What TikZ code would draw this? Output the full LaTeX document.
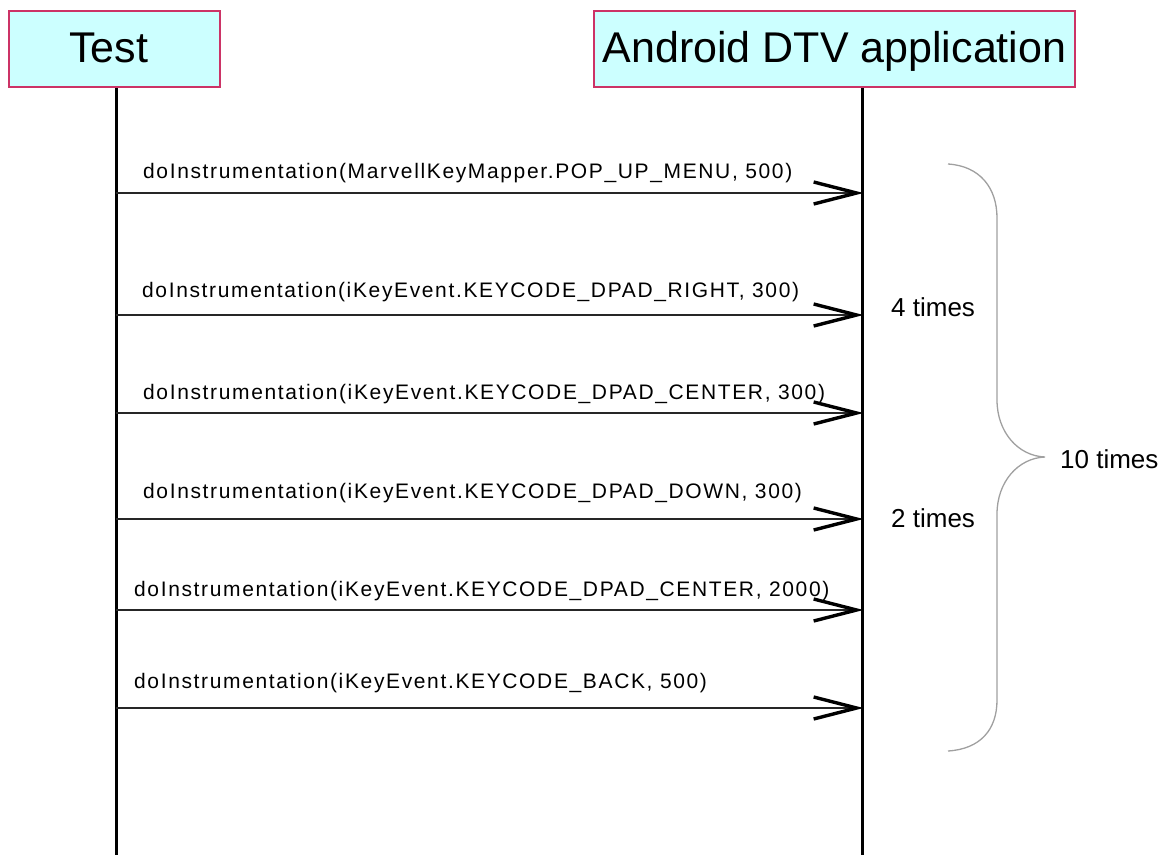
\documentclass[tikz,border=0pt]{standalone}
\usepackage{fontspec}
\setmainfont{Liberation Sans}
\newfontfamily\msgfont[LetterSpace=7.8]{Liberation Sans}
\usetikzlibrary{arrows.meta}
\definecolor{headfill}{HTML}{CCFFFF}
\definecolor{headline}{HTML}{CC3366}
\definecolor{bracegray}{HTML}{A0A0A0}
\begin{document}
\begin{tikzpicture}[x=1pt,y=-1pt,
  header/.style={draw=headline, line width=1.6pt, fill=headfill, inner sep=0pt,
    minimum height=76pt, text height=26pt, text depth=0pt,
    font=\fontsize{43}{50}\selectfont},
  lifeline/.style={line width=3pt},
  msg/.style={line width=1.3pt, draw=black!85, shorten >=-1.5pt,
    -{Straight Barb[length=43pt,width=22pt,line width=3.4pt,color=black]}},
  msgtext/.style={anchor=base west, inner sep=0pt, font=\msgfont\fontsize{21}{25}\selectfont},
  note/.style={anchor=base west, inner sep=0pt, font=\fontsize{26}{31}\selectfont},
  bracket/.style={draw=bracegray, line width=1.3pt}]
\useasboundingbox (0,0) rectangle (1169,855);

% participants
\node[header, minimum width=211pt] (test) at (114.5,49) {Test\hspace*{12pt}};
\node[header, minimum width=481pt] (app) at (834.5,49) {Android DTV application};

% lifelines
\coordinate (testend) at (116,855);
\coordinate (append) at (862,855);
\draw[lifeline] (test.south -| testend) -- (testend);
\draw[lifeline] (app.south -| append) -- (append);

% messages
\foreach \i/\y in {1/193,2/315,3/413,4/519,5/610,6/708}{
  \coordinate (t\i) at (116,\y);
  \coordinate (a\i) at (862,\y);
  \draw[msg] (t\i) -- (a\i);
}
\node[msgtext] (m1) at (143,178) {doInstrumentation(MarvellKeyMapper.POP\_UP\_MENU, 500)};
\node[msgtext] (m2) at (142,297) {doInstrumentation(iKeyEvent.KEYCODE\_DPAD\_RIGHT, 300)};
\node[msgtext] (m3) at (143,399) {doInstrumentation(iKeyEvent.KEYCODE\_DPAD\_CENTER, 300)};
\node[msgtext] (m4) at (143,498) {doInstrumentation(iKeyEvent.KEYCODE\_DPAD\_DOWN, 300)};
\node[msgtext] (m5) at (134,596) {doInstrumentation(iKeyEvent.KEYCODE\_DPAD\_CENTER, 2000)};
\node[msgtext] (m6) at (134,688) {doInstrumentation(iKeyEvent.KEYCODE\_BACK, 500)};

% repetition notes
\node[note] (n4) at (891,316) {4 times};
\node[note] (n2) at (891,527) {2 times};
\node[note] (n10) at (1060,468) {10 times};

% curly brace around the loop
\draw[bracket] (948,164) .. controls (980,166) and (997,188) .. (997,218)
  -- (997,400) .. controls (997,432) and (1018,456) .. (1045,457)
  .. controls (1018,458) and (997,482) .. (997,514)
  -- (997,700) .. controls (997,730) and (980,749) .. (948,751);
\end{tikzpicture}
\end{document}
